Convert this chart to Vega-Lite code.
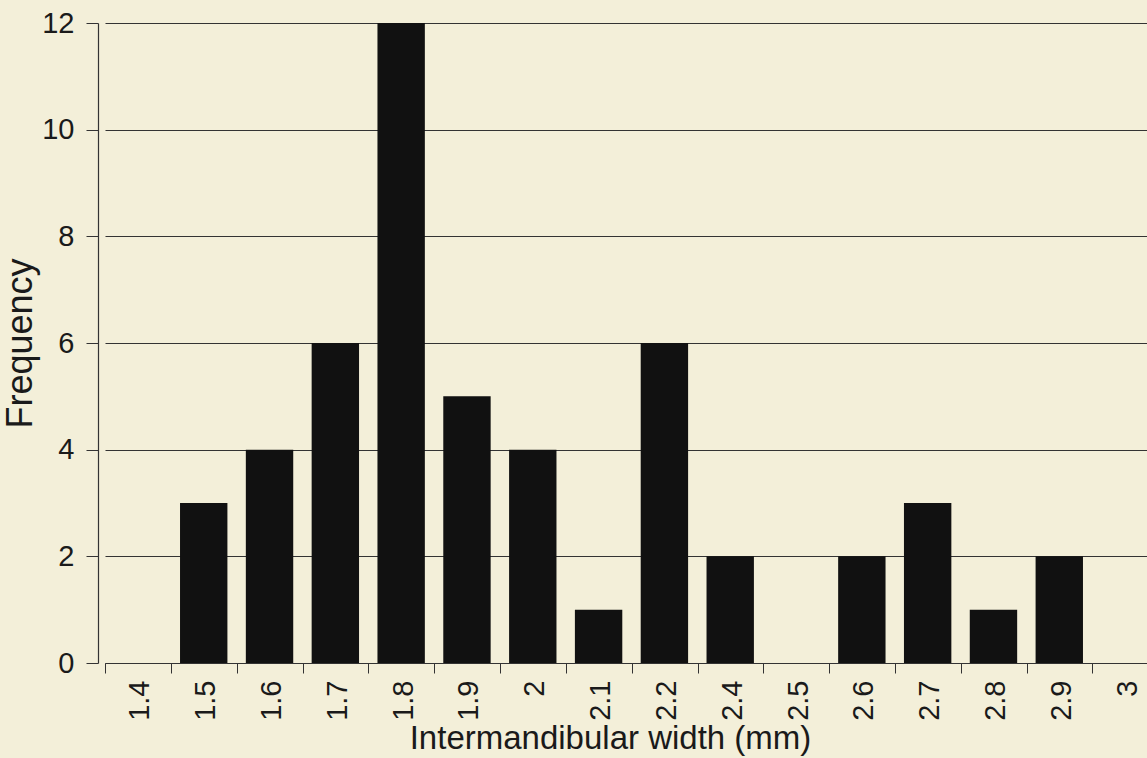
{
  "$schema": "https://vega.github.io/schema/vega-lite/v6.json",
  "autosize": "none",
  "width": 1053,
  "height": 640,
  "padding": {"left": 105, "top": 23, "right": 0, "bottom": 95},
  "background": "#f3efd9",
  "config": {
    "view": {"stroke": null},
    "font": "Liberation Sans",
    "axis": {"labelFont": "Liberation Sans", "titleFont": "Liberation Sans", "labelColor": "#1a1a1a", "titleColor": "#1a1a1a", "titleFontWeight": "normal"}
  },
  "data": {
    "values": [
      {"width": "1.4", "frequency": 0},
      {"width": "1.5", "frequency": 3},
      {"width": "1.6", "frequency": 4},
      {"width": "1.7", "frequency": 6},
      {"width": "1.8", "frequency": 12},
      {"width": "1.9", "frequency": 5},
      {"width": "2", "frequency": 4},
      {"width": "2.1", "frequency": 1},
      {"width": "2.2", "frequency": 6},
      {"width": "2.4", "frequency": 2},
      {"width": "2.5", "frequency": 0},
      {"width": "2.6", "frequency": 2},
      {"width": "2.7", "frequency": 3},
      {"width": "2.8", "frequency": 1},
      {"width": "2.9", "frequency": 2},
      {"width": "3", "frequency": 0}
    ]
  },
  "mark": {"type": "bar", "color": "#111111"},
  "encoding": {
    "x": {
      "field": "width",
      "type": "ordinal",
      "sort": null,
      "scale": {"paddingInner": 0.28, "paddingOuter": 0.14},
      "axis": {
        "title": "Intermandibular width (mm)",
        "titleFontSize": 33,
        "titleX": 505,
        "titlePadding": 2,
        "labelFontSize": 29,
        "labelAngle": 270,
        "labelAlign": "right",
        "labelBaseline": "middle",
        "labelPadding": 7,
        "labelOffset": 11,
        "bandPosition": 0,
        "tickOffset": -9,
        "tickSize": 10,
        "tickColor": "#333333",
        "domainColor": "#333333",
        "domainWidth": 1.2
      }
    },
    "y": {
      "field": "frequency",
      "type": "quantitative",
      "scale": {"domain": [0, 12]},
      "axis": {
        "title": "Frequency",
        "titleFontSize": 36,
        "titlePadding": 2,
        "values": [0, 2, 4, 6, 8, 10, 12],
        "labelFontSize": 29,
        "labelPadding": 12,
        "offset": 7,
        "tickSize": 12,
        "tickColor": "#333333",
        "domainColor": "#333333",
        "domainWidth": 1.2,
        "grid": true,
        "gridColor": "#333333",
        "gridWidth": 1.2,
        "gridOpacity": 1
      }
    }
  }
}
